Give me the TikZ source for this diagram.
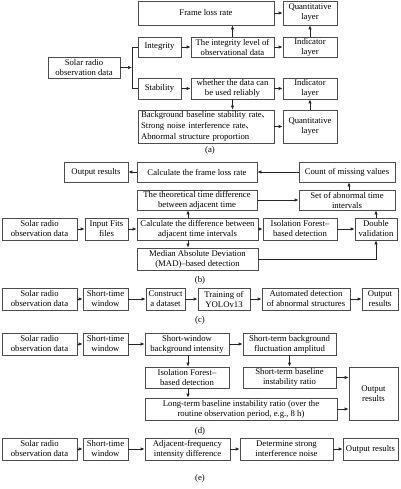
\documentclass[tikz,border=0pt]{standalone}
\usepackage{fontspec}
\setmainfont{Liberation Serif}
\newfontfamily\cjk{Noto Sans CJK SC}
\usetikzlibrary{arrows.meta,calc}
\newcommand{\mybox}[6]{\node[box, minimum width={#4-#2}, minimum height={#5-#3}] (#1) at ({(#2+#4)/2},{(#3+#5)/2}) {#6};}
\begin{document}
\begin{tikzpicture}[x=1pt,y=-1pt, font=\fontsize{8.7}{10}\selectfont,
  box/.style={draw=black!70, line width=0.7pt, inner sep=0pt, align=center},
  arr/.style={-{Latex[length=4pt,width=3.4pt]}, line width=0.7pt, draw=black!85},
  ln/.style={line width=0.7pt, draw=black!85},
  lab/.style={inner sep=0pt}]
\useasboundingbox (0,0) rectangle (400,489);

% ---------------- (a)
\mybox{fl}{138}{1}{274}{25}{Frame loss rate}
\mybox{qa1}{283}{1}{337}{25}{Quantitative\\layer}
\mybox{integ}{138}{37}{181}{57}{Integrity}
\mybox{il}{191}{37}{274}{57}{The integrity level of\\observational data}
\mybox{ind1}{283}{37}{337}{57}{Indicator\\layer}
\mybox{solA}{48}{57}{120}{78}{Solar radio\\observation data}
\mybox{stab}{138}{78}{181}{99}{Stability}
\mybox{wh}{191}{78}{274}{99}{whether the data can\\be used reliably}
\mybox{ind2}{283}{78}{337}{99}{Indicator\\layer}
\node[box, align=left, minimum width=136, minimum height=33, text width=130, inner xsep=3pt,
  font=\fontsize{8.7}{11}\selectfont] (bg) at (206,126.5)
  {\mbox{Background baseline stability rate{\cjk\hspace{-0.5pt}、}}\\\mbox{Strong noise interference rate{\cjk\hspace{-0.5pt}、}}\\\mbox{Abnormal structure proportion}};
\mybox{qa2}{283}{110}{337}{143}{Quantitative\\layer}
\node[lab] (la) at (210,150.5) {(a)};

\coordinate (brA) at (132,67.5);
\draw[arr] (solA.east) -- (brA);
\draw[ln] (brA |- integ.west) -- (brA |- stab.west);
\draw[ln] (brA |- integ.west) -- (integ.west);
\draw[ln] (brA |- stab.west) -- (stab.west);
\draw[arr] (integ) -- (il);
\draw[arr] (il) -- (ind1);
\draw[arr] (il.north) -- (il.north |- fl.south);
\draw[arr] (fl) -- (qa1);
\draw[arr] (ind1) -- (qa1);
\draw[arr] (stab) -- (wh);
\draw[arr] (wh) -- (ind2);
\draw[arr] (wh.south) -- (wh.south |- bg.north);
\draw[arr] (bg.east |- qa2.west) -- (qa2.west);
\draw[arr] (qa2) -- (ind2);

% ---------------- (b)
\mybox{outB}{64}{162}{128}{182}{Output results}
\mybox{cfl}{137}{162}{257}{182}{Calculate the frame loss rate}
\mybox{cnt}{299}{162}{395}{182}{Count of missing values}
\mybox{theo}{137}{190}{257}{210}{The theoretical time difference\\between adjacent time}
\mybox{set}{299}{190}{395}{210}{Set of abnormal time\\intervals}
\mybox{solB}{2}{218}{77}{240}{Solar radio\\observation data}
\mybox{fits}{85}{218}{128}{240}{Input Fits\\files}
\mybox{cdiff}{137}{218}{258}{240}{Calculate the difference between\\adjacent time intervals}
\mybox{isoB}{263}{218}{337}{240}{Isolation Forest--\\based detection}
\mybox{dbl}{355}{218}{397}{240}{Double\\validation}
\mybox{mad}{137}{248}{258}{270}{Median Absolute Deviation\\(MAD)--based detection}
\node[lab] (lb) at (200,280) {(b)};

\coordinate (xb) at (188,0);
\draw[arr] (cnt) -- (cfl);
\draw[arr] (cfl) -- (outB);
\draw[arr] (set.north -| 349,0) -- (cnt.south -| 349,0);
\draw[arr] (theo) -- (set);
\draw[arr] (xb |- cdiff.north) -- (xb |- theo.south);
\draw[arr] (xb |- cdiff.south) -- (xb |- mad.north);
\draw[arr] (solB) -- (fits);
\draw[arr] (fits) -- (cdiff);
\draw[arr] (cdiff) -- (isoB);
\draw[arr] (isoB) -- (dbl);
\draw[arr] (mad.east) -| (dbl.south);
\draw[arr] (dbl.north) -- (dbl.north |- set.south);

% ---------------- (c)
\mybox{solC}{2}{288}{77}{310}{Solar radio\\observation data}
\mybox{stwC}{83}{288}{128}{310}{Short-time\\window}
\mybox{cds}{146}{288}{185}{310}{Construct\\a dataset}
\mybox{yolo}{198}{288}{250}{310}{Training of\\YOLOv13}
\mybox{auto}{262}{288}{350}{310}{Automated detection\\of abnormal structures}
\mybox{outC}{362}{288}{398}{310}{Output\\results}
\node[lab] (lc) at (200,320) {(c)};
\draw[arr] (solC) -- (stwC);
\draw[arr] (stwC) -- (cds);
\draw[arr] (cds) -- (yolo);
\draw[arr] (yolo) -- (auto);
\draw[arr] (auto) -- (outC);

% ---------------- (d)
\mybox{solD}{2}{333}{77}{355}{Solar radio\\observation data}
\mybox{stwD}{83}{333}{128}{355}{Short-time\\window}
\mybox{swb}{145}{333}{229}{355}{Short-window\\background intensity}
\mybox{stb}{243}{333}{336}{355}{Short-term background\\fluctuation amplitud}
\mybox{isoD}{145}{367}{229}{388}{Isolation Forest--\\based detection}
\mybox{sbr}{243}{367}{336}{388}{Short-term baseline\\instability ratio}
\mybox{outD}{349}{367}{398}{420}{Output\\results}
\mybox{ltb}{145}{398}{337}{420}{Long-term baseline instability ratio (over the\\routine observation period, e.g., 8 h)}
\node[lab] (ld) at (200,431) {(d)};
\draw[arr] (solD) -- (stwD);
\draw[arr] (stwD) -- (swb);
\draw[arr] (swb) -- (stb);
\draw[arr] (swb.south -| xb) -- (isoD.north -| xb);
\draw[arr] (stb) -- (sbr);
\draw[arr] (isoD.south -| xb) -- (ltb.north -| xb);
\draw[arr] (sbr.east) -- (sbr.east -| outD.west);
\draw[arr] (ltb.east) -- (ltb.east -| outD.west);

% ---------------- (e)
\mybox{solE}{2}{438}{77}{460}{Solar radio\\observation data}
\mybox{stwE}{83}{438}{128}{460}{Short-time\\window}
\mybox{afi}{145}{438}{230}{460}{Adjacent-frequency\\intensity difference}
\mybox{dsi}{240}{438}{333}{460}{Determine strong\\interference noise}
\mybox{outE}{343}{438}{398}{460}{Output results}
\node[lab] (le) at (200,478) {(e)};
\draw[arr] (solE) -- (stwE);
\draw[arr] (stwE) -- (afi);
\draw[arr] (afi) -- (dsi);
\draw[arr] (dsi) -- (outE);
\end{tikzpicture}
\end{document}
